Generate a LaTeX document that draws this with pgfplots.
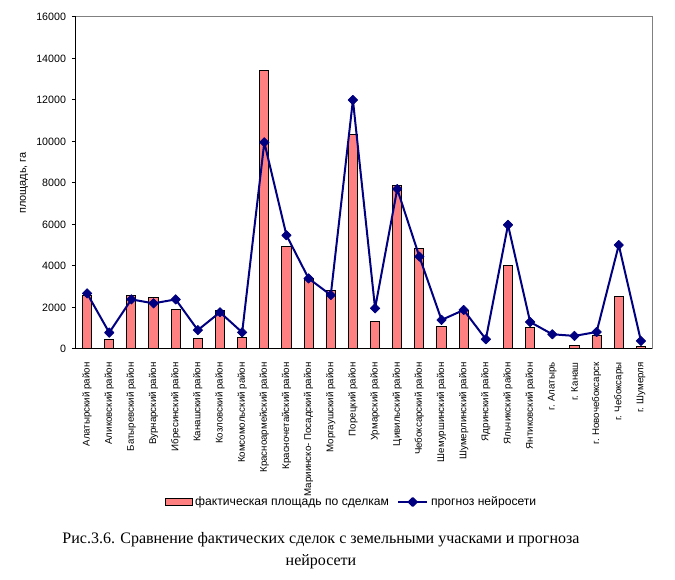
\documentclass[border=0pt]{standalone}
\usepackage{pgfplots}
\pgfplotsset{compat=1.18}
\usepackage{fontspec}
\setmainfont{Liberation Sans}
\newfontfamily\capfont{Liberation Serif}
\definecolor{barfill}{HTML}{FF8080}
\definecolor{navy}{HTML}{000080}
\begin{document}
\begin{tikzpicture}
\begin{axis}[
  at={(0,0)}, anchor=south west,
  scale only axis,
  width=432pt, height=249pt,
  xmin=-0.5, xmax=25.5,
  ymin=0, ymax=16000,
  ytick={0,2000,...,16000},
  scaled y ticks=false,
  /pgf/number format/1000 sep={},
  /pgf/number format/assume math mode=true,
  axis x line*=bottom, axis y line*=left,
  axis line style={black, line width=0.75pt, -},
  tick align=outside,
  major tick length=3pt,
  minor tick length=3pt,
  xtick={0,...,25},
  minor xtick={-0.5,0.5,...,25.5},
  xtick style={draw=none},
  minor x tick style={black, line width=0.75pt},
  y tick style={black, line width=0.75pt},
  yticklabel style={xshift=-1pt, font=\fontsize{8}{9}\selectfont},
  xticklabel style={rotate=90, anchor=east, xshift=-3.5pt, font=\fontsize{7.3}{8}\selectfont},
  xticklabels={Алатырский район, Аликовский район, Батыревский район, Вурнарский район, Ибресинский район, Канашский район, Козловский район, Комсомольский район, Красноармейский район, Красночетайский район, Мариинско- Посадский район, Моргаушский район, Порецкий район, Урмарский район, Цивильский район, Чебоксарский район, Шемуршинский район, Шумерлинский район, Ядринский район, Яльчикский район, Янтиковский район, г. Алатырь, г. Канаш, г. Новочебоксарск, г. Чебоксары, г. Шумерля},
  ylabel={площадь, га},
  ylabel style={at={(axis description cs:-0.0903,0.5)}, anchor=center, font=\fontsize{8.2}{10}\selectfont},
  legend columns=2,
  legend style={at={(axis description cs:0.479,-0.461)}, anchor=center, draw=none, fill=none, font=\fontsize{9.1}{10}\selectfont, /tikz/every even column/.append style={column sep=4pt}, inner sep=0pt},
  clip=false,
]
\addplot[ybar, bar width=0.41, fill=barfill, draw=black, line width=0.75pt,
  legend image code/.code={\draw[fill=barfill, draw=black, line width=0.75pt] (0pt,-2.6pt) rectangle (20pt,2.6pt);}]
  coordinates {
  (0,2600) (1,470) (2,2590) (3,2460) (4,1910) (5,510) (6,1860) (7,560) (8,13430) (9,4950)
  (10,3400) (11,2830) (12,10360) (13,1330) (14,7890) (15,4850) (16,1090) (17,1850) (18,0)
  (19,4030) (20,1040) (21,30) (22,180) (23,660) (24,2540) (25,130)};
\addlegendentry{фактическая площадь по сделкам}
\addplot[navy, line width=1.5pt, line join=round, mark=square*, mark size=2.5pt, mark options={rotate=45, fill=navy, draw=navy, line width=0.5pt},
  legend image code/.code={\draw[navy, line width=1.5pt] (0pt,0pt) -- (22pt,0pt); \fill[navy, rotate around={45:(11pt,0pt)}] (8.9pt,-2.1pt) rectangle (13.1pt,2.1pt);}]
  coordinates {
  (0,2680) (1,790) (2,2390) (3,2200) (4,2390) (5,910) (6,1770) (7,800) (8,9960) (9,5480)
  (10,3400) (11,2600) (12,12000) (13,1960) (14,7710) (15,4450) (16,1400) (17,1880) (18,470)
  (19,5980) (20,1300) (21,710) (22,630) (23,820) (24,5010) (25,390)};
\addlegendentry{прогноз нейросети}
\draw[gray, line width=0.75pt] (rel axis cs:0,1) -- (rel axis cs:1,1) -- (rel axis cs:1,0);
\end{axis}
\node[font=\capfont\fontsize{12}{16.5}\selectfont, align=center] at (183.75pt,-151pt) {Рис.3.6. Сравнение фактических сделок с земельными учасками и прогноза\\нейросети};
\useasboundingbox (-57pt,-173.25pt) rectangle (449.25pt,261.75pt);
\end{tikzpicture}
\end{document}
